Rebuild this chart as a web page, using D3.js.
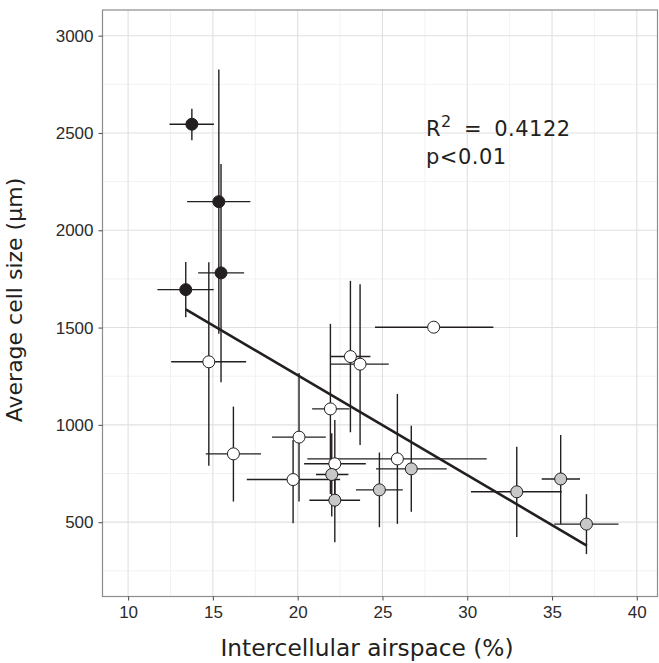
<!DOCTYPE html>
<html>
<head>
<meta charset="utf-8">
<script src="https://cdn.jsdelivr.net/npm/d3@7"></script>
<style>
  body { margin: 0; background: #fff; }
</style>
</head>
<body>
<svg width="659" height="663"></svg>
<script>
// values
var airspace = [13.76, 15.35, 15.48, 13.40, 14.76, 16.21, 20.08, 19.73, 21.93, 23.11, 23.68, 28.02, 25.88, 22.19, 22.01, 22.19, 24.82, 26.70, 32.92, 35.51, 37.03];
var airLo    = [12.44, 13.48, 14.13, 11.73, 12.54, 14.58, 18.49, 17.00, 20.85, 21.95, 21.95, 24.56, 20.57, 20.38, 21.08, 20.69, 23.44, 24.62, 30.22, 34.39, 35.13];
var airHi    = [15.06, 17.21, 16.84, 15.05, 16.96, 17.84, 21.66, 22.50, 23.05, 24.29, 25.37, 31.54, 31.15, 24.02, 22.99, 23.68, 26.20, 28.79, 35.57, 36.65, 38.92];
var cellSize = [2545, 2147, 1781, 1695, 1324, 851, 937, 719, 1082, 1351, 1312, 1502, 825, 800, 745, 613, 666, 774, 656, 722, 490];
var cellLo   = [2463, 1468, 1219, 1553, 790, 606, 606, 495, 645, 962, 897, 1502, 491, 575, 529, 397, 474, 553, 424, 491, 336];
var cellHi   = [2625, 2826, 2341, 1837, 1836, 1094, 1266, 922, 1519, 1740, 1723, 1502, 1159, 1025, 957, 829, 858, 995, 887, 948, 644];
var group    = ["dark", "dark", "dark", "dark",
                "open", "open", "open", "open", "open", "open", "open", "open", "open", "open",
                "grey", "grey", "grey", "grey", "grey", "grey", "grey"];

// fitted line end points
var fitX = [13.40, 37.05];
var fitY = [1594, 380];

var xTicks = [10, 15, 20, 25, 30, 35, 40];
var xMinor = [12.5, 17.5, 22.5, 27.5, 32.5, 37.5];
var yTicks = [500, 1000, 1500, 2000, 2500, 3000];
var yMinor = [250, 750, 1250, 1750, 2250, 2750];

var fills = { dark: "#231f20", open: "#ffffff", grey: "#c8c8c8" };

var svg = d3.select("svg"),
    pL = 102.5, pR = 657.5, pT = 10, pB = 596.5;

var x = d3.scaleLinear().domain([8.49, 41.22]).range([pL, pR]);
var y = d3.scaleLinear().domain([118, 3132]).range([pB, pT]);

var data = airspace.map(function(d, i) {
  return { x: d, xlo: airLo[i], xhi: airHi[i], y: cellSize[i], ylo: cellLo[i], yhi: cellHi[i], g: group[i] };
});

// grid
var grid = svg.append("g");
grid.selectAll(".vmin").data(xMinor).enter().append("line")
  .attr("x1", d => x(d)).attr("x2", d => x(d)).attr("y1", pT).attr("y2", pB)
  .attr("stroke", "#f2f2f2").attr("stroke-width", 1);
grid.selectAll(".hmin").data(yMinor).enter().append("line")
  .attr("y1", d => y(d)).attr("y2", d => y(d)).attr("x1", pL).attr("x2", pR)
  .attr("stroke", "#f2f2f2").attr("stroke-width", 1);
grid.selectAll(".vmaj").data(xTicks).enter().append("line")
  .attr("x1", d => x(d)).attr("x2", d => x(d)).attr("y1", pT).attr("y2", pB)
  .attr("stroke", "#e0e0e0").attr("stroke-width", 1.1);
grid.selectAll(".hmaj").data(yTicks).enter().append("line")
  .attr("y1", d => y(d)).attr("y2", d => y(d)).attr("x1", pL).attr("x2", pR)
  .attr("stroke", "#e0e0e0").attr("stroke-width", 1.1);

// error bars
var bars = svg.append("g").attr("stroke", "#231f20").attr("stroke-width", 1.4);
bars.selectAll(".eh").data(data).enter().append("line")
  .attr("x1", d => x(d.xlo)).attr("x2", d => x(d.xhi))
  .attr("y1", d => y(d.y)).attr("y2", d => y(d.y));
bars.selectAll(".ev").data(data.filter(d => d.yhi > d.ylo)).enter().append("line")
  .attr("x1", d => x(d.x)).attr("x2", d => x(d.x))
  .attr("y1", d => y(d.ylo)).attr("y2", d => y(d.yhi));

// regression line
svg.append("line")
  .attr("x1", x(fitX[0])).attr("y1", y(fitY[0]))
  .attr("x2", x(fitX[1])).attr("y2", y(fitY[1]))
  .attr("stroke", "#231f20").attr("stroke-width", 2.6);

// points
svg.append("g").selectAll("circle").data(data).enter().append("circle")
  .attr("cx", d => x(d.x)).attr("cy", d => y(d.y)).attr("r", 6)
  .attr("fill", d => fills[d.g])
  .attr("stroke", "#231f20").attr("stroke-width", 1);

// panel border
svg.append("rect")
  .attr("x", pL).attr("y", pT).attr("width", pR - pL).attr("height", pB - pT)
  .attr("fill", "none").attr("stroke", "#8c8c8c").attr("stroke-width", 1.2);

// axes
var xAxis = svg.append("g")
  .attr("transform", "translate(0," + pB + ")")
  .call(d3.axisBottom(x).tickValues(xTicks).tickSize(4).tickPadding(5));
var yAxis = svg.append("g")
  .attr("transform", "translate(" + pL + ",0)")
  .call(d3.axisLeft(y).tickValues(yTicks).tickSize(4).tickPadding(5).tickFormat(d3.format("d")));
[xAxis, yAxis].forEach(function(a) {
  a.select(".domain").remove();
  a.selectAll(".tick line").attr("stroke", "#555").attr("stroke-width", 1.1);
  a.selectAll(".tick text").attr("fill", "#2b2b2b")
    .style("font-family", "'Liberation Sans', Arial, sans-serif").style("font-size", "17px");
});

// titles
svg.append("text")
  .attr("x", 367).attr("y", 656)
  .attr("text-anchor", "middle")
  .style("font-family", "'DejaVu Sans', Verdana, sans-serif").style("font-size", "23.3px")
  .attr("fill", "#231f20")
  .text("Intercellular airspace (%)");
svg.append("text")
  .attr("transform", "translate(22,300) rotate(-90)")
  .attr("text-anchor", "middle")
  .style("font-family", "'DejaVu Sans', Verdana, sans-serif").style("font-size", "22px")
  .attr("fill", "#231f20")
  .text("Average cell size (µm)");

// annotation
var ann = svg.append("g")
  .style("font-family", "'DejaVu Sans', Verdana, sans-serif").attr("fill", "#231f20");
var r2 = ann.append("text").attr("x", 426).attr("y", 136)
  .style("font-size", "21px").style("word-spacing", "5px").style("letter-spacing", "0.5px");
r2.append("tspan").text("R");
r2.append("tspan").attr("dy", -9).style("font-size", "16px").text("2");
r2.append("tspan").attr("dy", 9).text(" = 0.4122");
ann.append("text").attr("x", 426).attr("y", 164)
  .style("font-size", "21px").style("letter-spacing", "0.5px").text("p<0.01");
</script>
</body>
</html>
